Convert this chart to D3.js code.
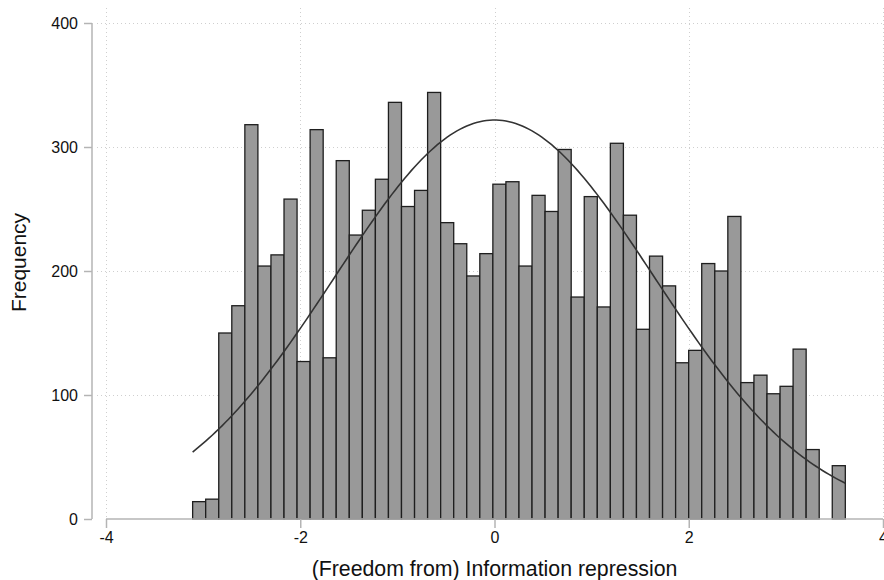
<!DOCTYPE html>
<html>
<head>
<meta charset="utf-8">
<script src="https://cdn.jsdelivr.net/npm/d3@7"></script>
<style>
  html, body { margin: 0; padding: 0; background: #fff; }
  svg { display: block; font-family: "Liberation Sans", Arial, Helvetica, sans-serif; }
</style>
</head>
<body>
<svg id="chart" width="884" height="580"></svg>
<script>
// ---- data ----
const binLow = -3.108;       // left edge of first bin
const binWidth = 0.1344;     // width of each bin
const counts = [14, 16, 150, 172, 318, 204, 213, 258, 127, 314,
                130, 289, 229, 249, 274, 336, 252, 265, 344, 239,
                222, 196, 214, 270, 272, 204, 261, 248, 298, 179,
                260, 171, 303, 245, 153, 212, 188, 126, 136, 206,
                200, 244, 110, 116, 101, 107, 137, 56, 0, 43];
const xTicks = [-4, -2, 0, 2, 4];
const yTicks = [0, 100, 200, 300, 400];
const normMean = 0;
const normSD = 1.645;
const xTitle = "(Freedom from) Information repression";
const yTitle = "Frequency";

// ---- layout ----
const svg = d3.select("#chart");
const x = d3.scaleLinear().domain([-4, 4]).range([106, 883]);
const y = d3.scaleLinear().domain([0, 400]).range([519, 23]);
const yAxisX = 92;
const fmt = d => String(d);

const bins = counts.map((c, i) => ({ x0: binLow + i * binWidth, x1: binLow + (i + 1) * binWidth, n: c }));

// grid
const grid = svg.append("g").attr("stroke", "#cfcfcf").attr("stroke-width", 1)
  .attr("stroke-dasharray", "1,3");
grid.selectAll("line.h").data(yTicks.filter(d => d > 0)).enter().append("line")
  .attr("x1", 97).attr("x2", 884)
  .attr("y1", d => Math.round(y(d)) + 0.5).attr("y2", d => Math.round(y(d)) + 0.5);
grid.selectAll("line.v").data(xTicks).enter().append("line")
  .attr("x1", d => Math.round(x(d)) + 0.5).attr("x2", d => Math.round(x(d)) + 0.5)
  .attr("y1", 8).attr("y2", 519);

// bars
svg.append("g").selectAll("rect").data(bins.filter(b => b.n > 0)).enter().append("rect")
  .attr("x", d => x(d.x0)).attr("width", d => x(d.x1) - x(d.x0))
  .attr("y", d => y(d.n)).attr("height", d => y(0) - y(d.n))
  .attr("fill", "#999999").attr("stroke", "#1e1e1e").attr("stroke-width", 1.3);

// normal density overlay (scaled to frequency)
const total = d3.sum(counts);
const xMin = binLow, xMax = binLow + counts.length * binWidth;
const pts = d3.range(0, 201).map(i => {
  const v = xMin + (xMax - xMin) * i / 200;
  const z = (v - normMean) / normSD;
  return [v, total * binWidth * Math.exp(-0.5 * z * z) / (normSD * Math.sqrt(2 * Math.PI))];
});
svg.append("path").datum(pts)
  .attr("d", d3.line().x(d => x(d[0])).y(d => y(d[1])))
  .attr("fill", "none").attr("stroke", "#333333").attr("stroke-width", 1.6);

// y axis
const yAx = svg.append("g").attr("transform", `translate(${yAxisX},0)`)
  .call(d3.axisLeft(y).tickValues(yTicks).tickFormat(fmt).tickSize(8).tickPadding(6));
yAx.select(".domain").attr("stroke", "#b4b4b4").attr("stroke-width", 1.5).attr("d", `M0,${y(400)}V${y(0)}`);
yAx.selectAll(".tick line").attr("stroke", "#b4b4b4").attr("stroke-width", 1.5);
yAx.selectAll(".tick text").attr("font-size", 16).attr("fill", "#111")
  .attr("font-family", "'Liberation Sans', Arial, sans-serif");

// x axis
const xAx = svg.append("g").attr("transform", `translate(0,519)`)
  .call(d3.axisBottom(x).tickValues(xTicks).tickFormat(fmt).tickSize(9).tickPadding(4));
xAx.select(".domain").attr("stroke", "#b4b4b4").attr("stroke-width", 1.5).attr("d", `M${x(-4)},0H${x(4)}`);
xAx.selectAll(".tick line").attr("stroke", "#b4b4b4").attr("stroke-width", 1.5);
xAx.selectAll(".tick text").attr("font-size", 16).attr("fill", "#111")
  .attr("font-family", "'Liberation Sans', Arial, sans-serif");

// titles
svg.append("text").attr("x", x(0)).attr("y", 576).attr("text-anchor", "middle")
  .attr("font-size", 21.3).attr("fill", "#111").text(xTitle);
svg.append("text").attr("transform", `translate(26,262.5) rotate(-90)`).attr("text-anchor", "middle")
  .attr("font-size", 21).attr("fill", "#111").text(yTitle);
</script>
</body>
</html>
